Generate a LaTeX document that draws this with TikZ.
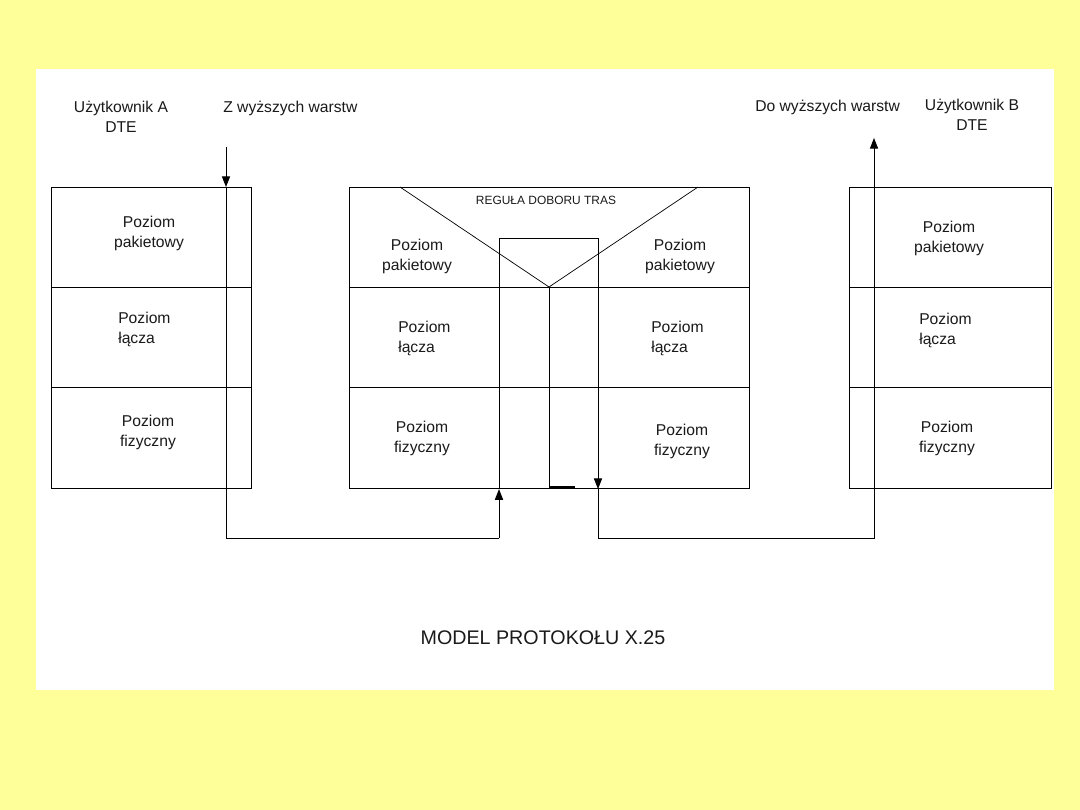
\documentclass[tikz,border=0pt]{standalone}
\usepackage{fontspec}
\setmainfont{Liberation Sans}
\usepackage{tikz}
\usetikzlibrary{arrows.meta}
\definecolor{slide}{HTML}{FFFF99}
\definecolor{ink}{HTML}{1A1A1A}

\begin{document}
\begin{tikzpicture}[x=0.025cm,y=-0.025cm,font=\fontsize{11.15}{14.2}\selectfont,
  txt/.style={align=center,inner sep=0pt,text=ink},
  txtl/.style={align=left,anchor=west,inner sep=0pt,text=ink},
  stack/.style={draw,line width=0.7pt,anchor=north west,inner sep=0pt,minimum height=7.525cm},
  wire/.style={line width=0.7pt},
  tip/.style={-{Triangle[length=7.6pt,width=5.8pt]}}]
  \fill[slide] (0,0) rectangle (1080,810);
  \fill[white] (36,69) rectangle (1054,690);
  \useasboundingbox (0,0) rectangle (1080,810);

  % three protocol stacks
  \node[stack,minimum width=5cm] (dteA) at (51,187) {};
  \node[stack,minimum width=10cm] (dce) at (349,187) {};
  \node[stack,minimum width=5.05cm] (dteB) at (849,187) {};
  \foreach \y in {287,387} {
    \draw[wire] (dteA.west |- 0,\y) -- (dteA.east |- 0,\y);
    \draw[wire] (dce.west |- 0,\y) -- (dce.east |- 0,\y);
    \draw[wire] (dteB.west |- 0,\y) -- (dteB.east |- 0,\y);
  }

  % routing rule
  \coordinate (apex) at (549,287);
  \draw[line width=0.5pt] (400,187) -- (apex) -- (698,187);
  \node[txt,font=\fontsize{8.5}{10}\selectfont] (rule) at (546,200) {REGUŁA DOBORU TRAS};
  \draw[wire] (apex) -- (549,487);
  \draw[line width=1.5pt] (549,487) -- (575,487);

  % labels
  \node[txt] (userA) at (121,117) {Użytkownik A\\DTE};
  \node[txt] (userB) at (972,115) {Użytkownik B\\DTE};
  \node[txtl] (fromTop) at (223,108) {Z wyższych warstw};
  \node[txtl] (toTop) at (755,107) {Do wyższych warstw};

  \node[txt] (aPak) at (149,233) {Poziom\\pakietowy};
  \node[txtl] (aLac) at (118,329) {Poziom\\łącza};
  \node[txt] (aFiz) at (148,432) {Poziom\\fizyczny};
  \node[txt] (sPakL) at (417,256) {Poziom\\pakietowy};
  \node[txtl] (sLacL) at (398,338) {Poziom\\łącza};
  \node[txt] (sFizL) at (422,438) {Poziom\\fizyczny};
  \node[txt] (sPakR) at (680,256) {Poziom\\pakietowy};
  \node[txtl] (sLacR) at (651,338) {Poziom\\łącza};
  \node[txt] (sFizR) at (682,441) {Poziom\\fizyczny};
  \node[txt] (bPak) at (949,238) {Poziom\\pakietowy};
  \node[txtl] (bLac) at (919,330) {Poziom\\łącza};
  \node[txt] (bFiz) at (947,438) {Poziom\\fizyczny};

  \node[txt,font=\fontsize{14}{16}\selectfont] (title) at (543,638) {MODEL PROTOKOŁU X.25};

  % data path A -> switch -> B
  \coordinate (inA) at (226,147);
  \coordinate (outB) at (874,138);
  \coordinate (loopL) at (499,238);
  \coordinate (loopR) at (598,238);
  \draw[wire,tip] (inA) -- (inA |- dteA.north);
  \draw[wire] (inA |- dteA.north) |- (loopL |- 0,538);
  \draw[wire,tip] (loopL |- 0,538) -- (loopL |- dce.south);
  \draw[wire] (loopL |- dce.south) -- (loopL) -- (loopR);
  \draw[wire,tip] (loopR) -- (loopR |- dce.south);
  \draw[wire] (loopR |- dce.south) -- (loopR |- 0,538);
  \draw[wire,tip] (loopR |- 0,538) -| (outB);
\end{tikzpicture}
\end{document}
